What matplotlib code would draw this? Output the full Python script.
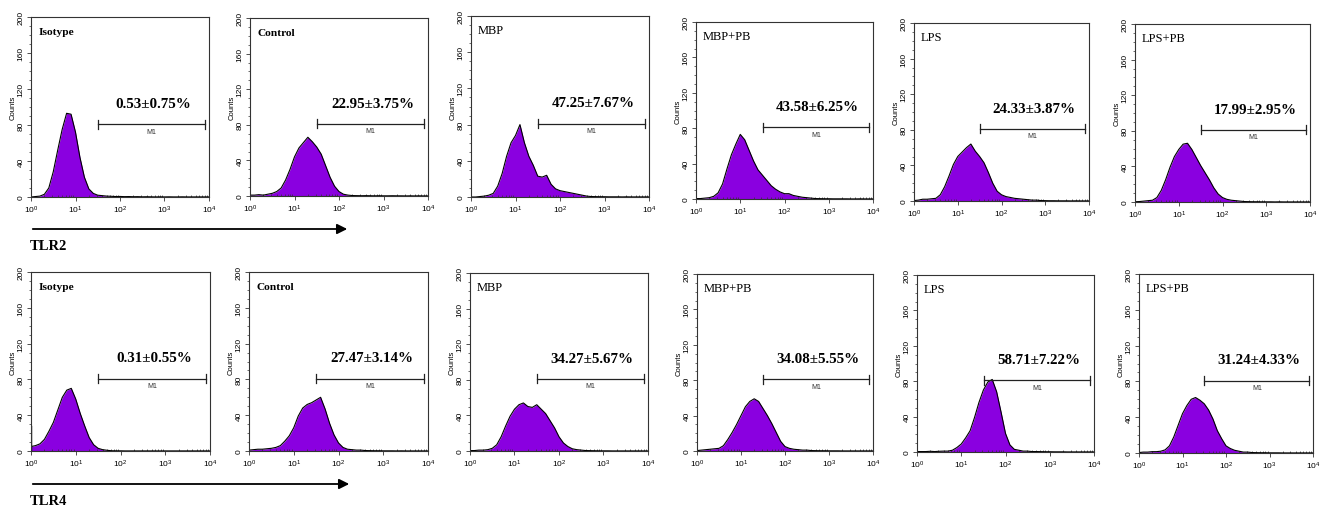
import numpy as np
import matplotlib
matplotlib.use("Agg")
import matplotlib.pyplot as plt
from matplotlib.patches import FancyArrowPatch
from matplotlib.ticker import MultipleLocator, LogLocator, NullFormatter

# ---------------- data ----------------
groups = ["Isotype", "Control", "MBP", "MBP+PB", "LPS", "LPS+PB"]
markers = ["TLR2", "TLR4"]

pct_tlr2 = ["0.53\u00b10.75%", "22.95\u00b13.75%", "47.25\u00b17.67%",
            "43.58\u00b16.25%", "24.33\u00b13.87%", "17.99\u00b12.95%"]
pct_tlr4 = ["0.31\u00b10.55%", "27.47\u00b13.14%", "34.27\u00b15.67%",
            "34.08\u00b15.55%", "58.71\u00b17.22%", "31.24\u00b14.33%"]

# log10 fluorescence bin centres (decades)
log_bins = [0.0, 0.1, 0.2, 0.3, 0.4, 0.5, 0.6, 0.7, 0.8, 0.9,
            1.0, 1.1, 1.2, 1.3, 1.4, 1.5, 1.6, 1.7, 1.8, 1.9,
            2.0, 2.1, 2.2, 2.3, 2.4, 2.5, 2.6, 2.7, 2.8, 2.9,
            3.0, 3.1, 3.2, 3.3, 3.4, 3.5, 3.6, 3.7, 3.8, 3.9, 4.0]

# TLR2 histograms (counts)
tlr2_isotype = [0, 0.5, 1, 3, 10, 28, 52, 75, 93, 92, 72, 44, 22, 9, 4, 2, 1.5, 1,
                0.8, 0.5, 0.6, 0.4, 0.5, 0.3, 0.4, 0.2, 0.3, 0.2, 0.1, 0.2,
                0.1, 0.2, 0.1, 0.1, 0.2, 0.1, 0.1, 0.1, 0.1, 0.1, 0.1]
tlr2_control = [1, 1, 1.5, 1, 2, 3, 5, 9, 18, 30, 44, 54, 60, 66, 61, 55, 47, 34,
                21, 11, 5, 2, 1, 0.5, 0.4, 0.3, 0.4, 0.3, 0.2, 0.3,
                0.2, 0.2, 0.3, 0.2, 0.2, 0.1, 0.2, 0.1, 0.2, 0.1, 0.1]
tlr2_mbp = [0, 0, 0.5, 1, 2, 4, 12, 26, 45, 60, 68, 80, 60, 45, 35, 23, 22, 24,
            14, 9, 7, 6, 5, 4, 3, 2, 1, 0.5, 0.4, 0.3,
            0.3, 0.2, 0.2, 0.2, 0.1, 0.2, 0.1, 0.1, 0.1, 0.1, 0.1]
tlr2_mbp_pb = [0.5, 0.5, 1, 1.5, 3, 7, 17, 34, 50, 62, 73, 67, 55, 43, 33, 27, 21, 15,
               11, 8, 6, 6, 4, 3, 2, 1.5, 1, 0.5, 0.4, 0.3,
               0.3, 0.2, 0.2, 0.2, 0.2, 0.1, 0.1, 0.2, 0.1, 0.1, 0.1]
tlr2_lps = [0.5, 1, 2, 2, 2.5, 3, 7, 16, 28, 41, 50, 55, 60, 64, 56, 50, 43, 32,
            20, 11, 7, 5, 4, 3, 2.5, 2, 1.5, 1, 1, 0.5,
            0.4, 0.3, 0.3, 0.2, 0.2, 0.2, 0.1, 0.2, 0.1, 0.1, 0.1]
tlr2_lps_pb = [0.3, 0.5, 1, 1.5, 2, 5, 13, 25, 39, 51, 59, 65, 66, 59, 50, 41, 33, 25,
               16, 9, 5, 3, 2, 1.5, 1, 0.5, 0.4, 0.3, 0.3, 0.2,
               0.2, 0.2, 0.1, 0.2, 0.1, 0.1, 0.1, 0.1, 0.1, 0.1, 0.1]

# TLR4 histograms (counts)
tlr4_isotype = [5, 6, 8, 13, 22, 32, 46, 60, 68, 70, 58, 42, 28, 15, 7, 3, 1.5, 0.8,
                0.3, 0.2, 0.2, 0.1, 0.1, 0.1, 0.1, 0.1, 0.1, 0.1, 0.1, 0.1,
                0.1, 0.1, 0.1, 0.1, 0.1, 0.1, 0.1, 0.1, 0.1, 0.1, 0.1]
tlr4_control = [1, 1.5, 2, 2, 2.5, 3, 4, 6, 11, 17, 26, 39, 48, 52, 54, 57, 60, 47,
                31, 18, 9, 4, 2, 1.5, 1, 1, 0.5, 0.4, 0.3, 0.3,
                0.2, 0.2, 0.2, 0.1, 0.2, 0.1, 0.1, 0.1, 0.1, 0.1, 0.1]
tlr4_mbp = [0.5, 0.5, 1, 1, 1.5, 3, 7, 16, 28, 39, 47, 52, 54, 50, 49, 52, 47, 42,
            34, 26, 16, 9, 5, 2.5, 1.5, 1, 0.5, 0.4, 0.3, 0.2,
            0.2, 0.2, 0.1, 0.1, 0.1, 0.1, 0.1, 0.1, 0.1, 0.1, 0.1]
tlr4_mbp_pb = [0.5, 1, 1.5, 2, 2.5, 3, 6, 13, 21, 30, 40, 50, 56, 59, 56, 48, 40, 31,
               21, 11, 5, 3, 2, 1.5, 1, 1, 0.5, 0.4, 0.3, 0.3,
               0.2, 0.2, 0.2, 0.1, 0.1, 0.1, 0.1, 0.1, 0.1, 0.1, 0.1]
tlr4_lps = [0.5, 0.5, 0.5, 0.8, 0.5, 0.8, 1, 1, 2, 5, 9, 16, 24, 39, 56, 70, 79, 82,
            68, 45, 21, 8, 3, 2, 1, 1, 0.5, 0.5, 0.4, 0.3,
            0.3, 0.2, 0.2, 0.2, 0.1, 0.1, 0.1, 0.1, 0.1, 0.1, 0.1]
tlr4_lps_pb = [0.5, 1, 1, 1.5, 1.5, 2, 3.5, 8, 18, 31, 44, 53, 60, 62, 59, 55, 48, 38,
               25, 16, 8, 5, 3, 2, 1, 1, 0.5, 0.4, 0.3, 0.3,
               0.2, 0.2, 0.2, 0.1, 0.1, 0.1, 0.1, 0.1, 0.1, 0.1, 0.1]

# spike of events piled at the lower edge (only TLR4 isotype)
edge_spike_tlr4_isotype = 28

tlr2_hists = [tlr2_isotype, tlr2_control, tlr2_mbp, tlr2_mbp_pb, tlr2_lps, tlr2_lps_pb]
tlr4_hists = [tlr4_isotype, tlr4_control, tlr4_mbp, tlr4_mbp_pb, tlr4_lps, tlr4_lps_pb]

# M1 gate (fluorescence range) and its height in counts
gate_m1 = [32, 8300]
gate_height = 81

# ---------------- layout ----------------
W, H = 1325, 510
fig = plt.figure(figsize=(W / 100, H / 100), dpi=100)

panel_px = [
    [(31, 18, 209, 198), (250, 19, 428, 197), (471, 17, 649, 198),
     (696, 23, 873, 200), (914, 24, 1089, 202), (1135, 25, 1310, 203)],
    [(31, 273, 210, 452), (249, 273, 428, 452), (470, 274, 648, 452),
     (697, 275, 873, 452), (917, 276, 1094, 453), (1139, 275, 1313, 454)],
]

FILL = "#8a00e0"
SPINE = "#333333"
serif = ["Liberation Serif", "DejaVu Serif"]
sans = ["Liberation Sans", "DejaVu Sans"]
bold_labels = {"Isotype", "Control"}

x_vals = 10 ** np.array(log_bins)

for r, (hists, pcts) in enumerate([(tlr2_hists, pct_tlr2), (tlr4_hists, pct_tlr4)]):
    for c in range(6):
        l, t, rr, b = panel_px[r][c]
        ax = fig.add_axes([l / W, 1 - b / H, (rr - l) / W, (b - t) / H])
        counts = np.array(hists[c], dtype=float)
        ax.fill_between(x_vals, 0, counts, color=FILL, lw=0)
        ax.plot(x_vals, counts, color="black", lw=0.8)
        if r == 1 and c == 0:
            ax.plot([1.02, 1.02], [0, edge_spike_tlr4_isotype], color="black", lw=1.0)
        ax.set_xscale("log")
        ax.set_xlim(1, 1e4)
        ax.set_ylim(0, 200)

        # gate
        ax.plot(gate_m1, [gate_height, gate_height], color="#222222", lw=0.9)
        for gx in gate_m1:
            ax.plot([gx, gx], [gate_height - 5, gate_height + 5], color="#222222", lw=0.9)
        gm = np.sqrt(gate_m1[0] * gate_m1[1])
        ax.text(gm, gate_height - 4, "M1", fontsize=5, family=sans, ha="center",
                va="top", color="#333333")
        ax.text(10 ** 2.75, 104, pcts[c], fontsize=10.8, family=serif, weight="bold",
                ha="center", va="center")
        name = groups[c]
        ax.text(0.04, 0.92, name, transform=ax.transAxes, family=serif,
                fontsize=8.2 if name in bold_labels else 9,
                weight="bold" if name in bold_labels else "normal",
                ha="left", va="center")

        # axes styling
        for sp in ax.spines.values():
            sp.set_color(SPINE)
            sp.set_linewidth(0.8)
        ax.set_yticks([0, 40, 80, 120, 160, 200])
        ax.yaxis.set_minor_locator(MultipleLocator(10))
        ax.xaxis.set_major_locator(LogLocator(base=10, numticks=10))
        ax.xaxis.set_minor_locator(LogLocator(base=10, subs=np.arange(2, 10), numticks=10))
        ax.xaxis.set_minor_formatter(NullFormatter())
        ax.tick_params(axis="both", which="major", labelsize=6, length=3, width=0.6,
                       color=SPINE, pad=1.5)
        ax.tick_params(axis="both", which="minor", length=1.6, width=0.5, color=SPINE)
        ax.tick_params(axis="x", which="minor", direction="in")
        ax.tick_params(axis="y", labelrotation=90)
        for lbl in ax.get_yticklabels():
            lbl.set_va("center")
            lbl.set_family(sans)
        for lbl in ax.get_xticklabels():
            lbl.set_family(sans)
        ax.set_ylabel("Counts", fontsize=5.5, family=sans, labelpad=1)

# arrows and marker labels
for (y_arrow, y_text, lab, x_end) in [(230, 246, markers[0], 350), (485, 502, markers[1], 352)]:
    arr = FancyArrowPatch((30 / W, 1 - y_arrow / H), (x_end / W, 1 - y_arrow / H),
                          transform=fig.transFigure, arrowstyle="-|>,head_length=6,head_width=3",
                          color="black", lw=1.3, mutation_scale=1)
    fig.add_artist(arr)
    fig.text(30 / W, 1 - y_text / H, lab, family=serif, weight="bold", fontsize=10.5,
             ha="left", va="center")

fig.savefig("out.png", dpi=100)
